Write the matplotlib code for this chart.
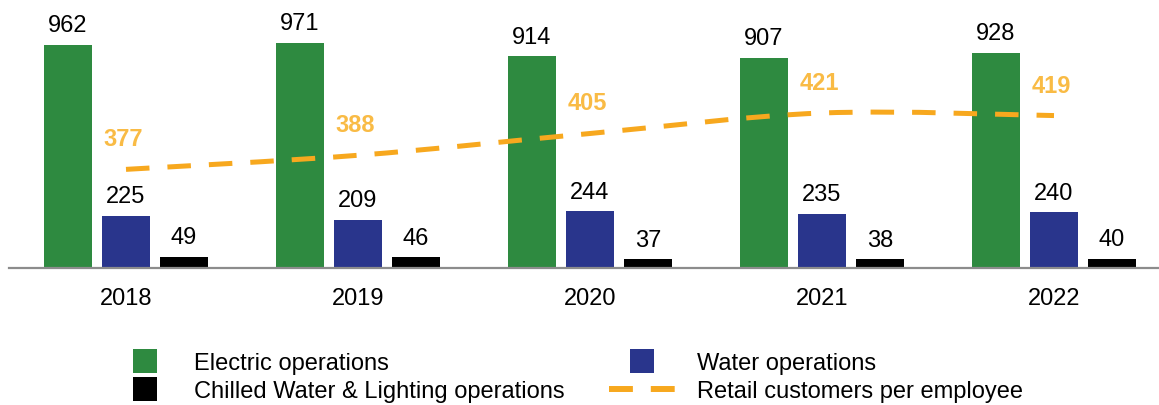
import matplotlib
matplotlib.use("Agg")
import matplotlib.pyplot as plt
from matplotlib.path import Path
from matplotlib.patches import PathPatch
from matplotlib.lines import Line2D
import numpy as np

# employees per operation and retail customers per employee
years = ["2018", "2019", "2020", "2021", "2022"]
electric = [962, 971, 914, 907, 928]
water = [225, 209, 244, 235, 240]
chilled = [49, 46, 37, 38, 40]
customers_per_emp = [377, 388, 405, 421, 419]

GREEN = "#2E8A40"
BLUE = "#29358C"
BLACK = "#000000"
ORANGE = "#F7A81E"
ORANGE_TXT = "#F9BB45"
FS = 17

plt.rcParams["font.family"] = ["Liberation Sans", "DejaVu Sans"]
plt.rcParams["font.size"] = FS

W, H = 1159, 406
fig = plt.figure(figsize=(W / 100, H / 100), dpi=100)
# axes run from the left edge of the base line to the right edge, bottom at the base line
ax = fig.add_axes([9 / W, (H - 269) / H, 1150 / W, 269 / H])

x = np.arange(len(years))
bw = 0.207
step = 0.25

bars = [
    (x - step, electric, GREEN),
    (x, water, BLUE),
    (x + step, chilled, BLACK),
]
for pos, vals, col in bars:
    ax.bar(pos, vals, width=bw, color=col, zorder=2)
    for px, v in zip(pos, vals):
        ax.annotate(str(v), (px, v), xytext=(0, 14), textcoords="offset points",
                    ha="center", va="center", fontsize=FS, color="black")

ax.set_xlim(-0.5043, 4.4526)
ax.set_ylim(0, 1160)
ax.set_xticks(x)
ax.set_xticklabels(years)
ax.tick_params(axis="x", length=0, pad=14, labelsize=FS)
ax.set_yticks([])
for s in ["top", "left", "right"]:
    ax.spines[s].set_visible(False)
ax.spines["bottom"].set_color("#8C8C8C")
ax.spines["bottom"].set_linewidth(1.6)
ax.spines["bottom"].set_zorder(3)

# secondary axis for the smoothed customers line
ax2 = ax.twinx()
ax2.set_ylim(300, 510)
ax2.set_yticks([])
for s in ax2.spines.values():
    s.set_visible(False)

pts = np.column_stack([x, customers_per_emp]).astype(float)
verts = [tuple(pts[0])]
codes = [Path.MOVETO]
n = len(pts)
for i in range(n - 1):
    p0 = pts[max(i - 1, 0)]
    p1 = pts[i]
    p2 = pts[i + 1]
    p3 = pts[min(i + 2, n - 1)]
    c1 = p1 + (p2 - p0) / 6.0
    c2 = p2 - (p3 - p1) / 6.0
    verts += [tuple(c1), tuple(c2), tuple(p2)]
    codes += [Path.CURVE4, Path.CURVE4, Path.CURVE4]
curve = PathPatch(Path(verts, codes), fill=False, edgecolor=ORANGE, lw=3.6,
                  linestyle=(0, (4.7, 3.6)), capstyle="butt", zorder=4)
ax2.add_patch(curve)

for px, v in zip(x, customers_per_emp):
    ax2.annotate(str(v), (px, v), xytext=(-2, 22), textcoords="offset points",
                 ha="center", va="center", fontsize=FS, fontweight="bold",
                 color=ORANGE_TXT)

# legend, two columns
sq = dict(marker="s", linestyle="none", markersize=17.3, markeredgewidth=0)
h_elec = Line2D([], [], color=GREEN, **sq)
h_chill = Line2D([], [], color=BLACK, **sq)
h_water = Line2D([], [], color=BLUE, **sq)
h_line = Line2D([], [], color=ORANGE, lw=4.3, dashes=(4.0, 3.0), dash_capstyle="butt")

em = FS / 72 * 100
common = dict(loc="center left", frameon=False, borderpad=0, borderaxespad=0,
              labelspacing=0.25, fontsize=FS)
leg1 = fig.legend([h_elec, h_chill], ["Electric operations", "Chilled Water & Lighting operations"],
                  bbox_to_anchor=(133 / W, (H - 378) / H),
                  handlelength=24 / em, handletextpad=37 / em, **common)
leg2 = fig.legend([h_water, h_line], ["Water operations", "Retail customers per employee"],
                  bbox_to_anchor=(609 / W, (H - 378) / H),
                  handlelength=66 / em, handletextpad=22 / em, **common)

fig.savefig("out.png", dpi=100)
